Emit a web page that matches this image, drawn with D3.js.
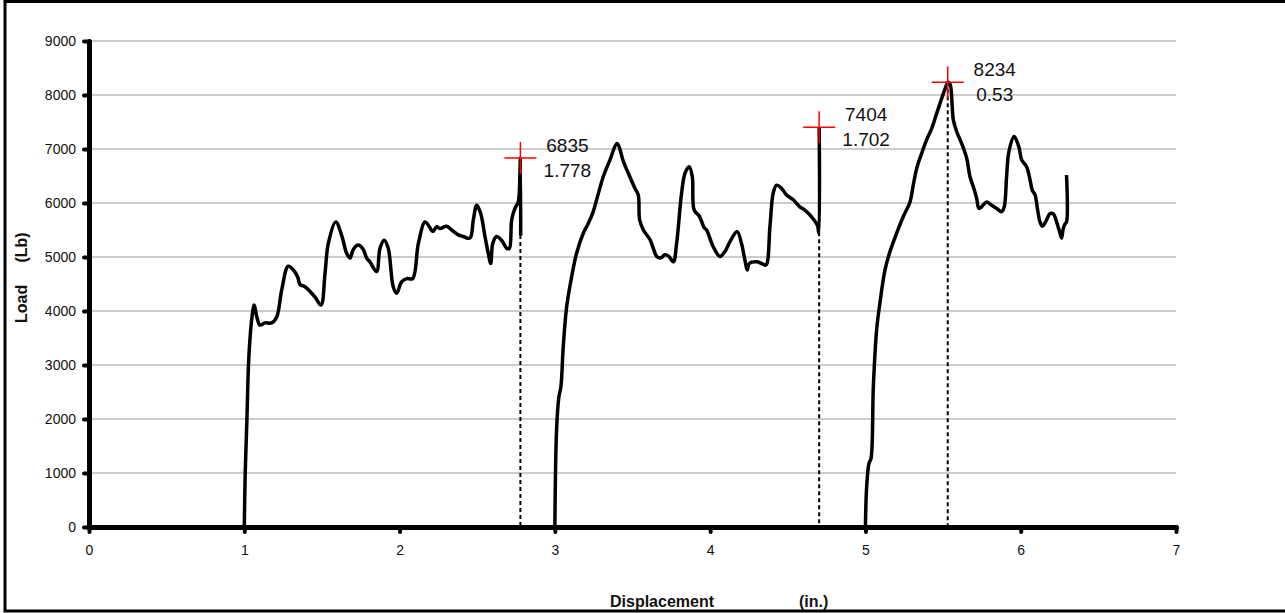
<!DOCTYPE html>
<html>
<head>
<meta charset="utf-8">
<script src="https://cdn.jsdelivr.net/npm/d3@7"></script>
<style>
  body { margin: 0; background: #fff; }
  text { font-family: Arial, "Liberation Sans", sans-serif; fill: #111; }
</style>
</head>
<body>
<div id="chart"></div>
<script>
var run1 = [[1.000,0],[1.006,1000],[1.017,2000],[1.027,3000],[1.037,3500],[1.050,3900],[1.064,4110],[1.080,3900],
  [1.101,3740],[1.133,3780],[1.176,3780],[1.209,3890],[1.241,4390],[1.283,4830],[1.316,4760],[1.344,4630],
  [1.359,4490],[1.391,4450],[1.455,4260],[1.494,4110],[1.520,4700],[1.541,5250],[1.589,5650],[1.627,5400],
  [1.659,5070],[1.681,4980],[1.702,5140],[1.734,5220],[1.766,5140],[1.788,4980],[1.809,4910],[1.852,4730],
  [1.874,5160],[1.901,5310],[1.927,5160],[1.959,4450],[1.981,4330],[2.013,4540],[2.046,4600],[2.084,4600],
  [2.121,5250],[2.164,5650],[2.192,5560],[2.213,5470],[2.239,5560],[2.260,5530],[2.303,5570],[2.336,5500],
  [2.378,5410],[2.410,5380],[2.453,5350],[2.475,5690],[2.497,5960],[2.522,5810],[2.550,5380],[2.571,5070],
  [2.587,4880],[2.600,5250],[2.625,5380],[2.657,5310],[2.690,5160],[2.707,5160],[2.722,5690],[2.743,5900],
  [2.764,6020],[2.775,6550],[2.778,6835],[2.780,5400]];

var run2 = [[3.000,0],[3.011,1800],[3.026,2410],[3.039,2600],[3.054,3340],[3.076,4080],[3.108,4630],[3.140,5070],
  [3.183,5440],[3.215,5620],[3.247,5840],[3.269,6060],[3.312,6490],[3.355,6800],[3.398,7100],[3.408,7080],
  [3.441,6770],[3.473,6550],[3.516,6270],[3.537,6150],[3.546,5690],[3.570,5500],[3.613,5320],[3.634,5160],
  [3.656,5010],[3.680,4980],[3.709,5040],[3.734,5010],[3.763,4910],[3.784,5250],[3.816,6180],[3.838,6550],
  [3.865,6670],[3.885,6490],[3.897,5870],[3.930,5760],[3.962,5540],[3.977,5500],[4.020,5190],[4.063,5010],
  [4.095,5100],[4.127,5280],[4.174,5470],[4.202,5250],[4.224,4940],[4.239,4760],[4.252,4880],[4.299,4910],
  [4.331,4880],[4.359,4850],[4.385,5560],[4.406,6180],[4.428,6330],[4.460,6270],[4.492,6150],[4.535,6060],
  [4.578,5930],[4.610,5870],[4.642,5780],[4.690,5590],[4.700,5440],[4.702,7404]];

var run3 = [[5.000,0],[5.008,750],[5.023,1180],[5.036,1270],[5.051,2600],[5.072,3650],[5.093,4140],[5.126,4760],
  [5.158,5100],[5.201,5440],[5.244,5750],[5.287,6020],[5.308,6330],[5.330,6640],[5.362,6920],[5.394,7170],
  [5.427,7380],[5.459,7660],[5.495,7970],[5.523,8190],[5.530,8234],[5.544,8210],[5.559,7780],[5.566,7540],
  [5.588,7320],[5.620,7100],[5.652,6830],[5.673,6490],[5.695,6300],[5.716,6090],[5.731,5900],[5.748,5930],
  [5.780,6020],[5.812,5960],[5.845,5900],[5.877,5840],[5.894,5930],[5.909,6490],[5.924,6950],[5.958,7230],
  [5.988,7040],[6.006,6800],[6.038,6670],[6.060,6430],[6.074,6240],[6.092,6150],[6.109,5870],[6.124,5650],
  [6.139,5570],[6.160,5650],[6.188,5800],[6.209,5800],[6.231,5650],[6.253,5440],[6.263,5350],[6.274,5530],
  [6.285,5610],[6.295,5650],[6.295,6518]];

// marked peaks
var peakX = [2.778, 4.702, 5.53];
var peakLoad = [6835, 7404, 8234];
var peakNote = ["1.778", "1.702", "0.53"];

var xTicks = [0, 1, 2, 3, 4, 5, 6, 7];
var yTicks = [0, 1000, 2000, 3000, 4000, 5000, 6000, 7000, 8000, 9000];

// set up SVG
var svgWidth = 1285;
var svgHeight = 613;

var margin = {
    top: 41,
    right: 109,
    left: 89,
    bottom: 86
};

var width = svgWidth - margin.right - margin.left;
var height = svgHeight - margin.top - margin.bottom;

var svg = d3.select("#chart")
    .append("svg")
    .attr("width", svgWidth)
    .attr("height", svgHeight);

// outer frame
svg.append("rect")
    .attr("x", 5)
    .attr("y", 1.5)
    .attr("width", svgWidth + 10)
    .attr("height", 609.5)
    .attr("fill", "none")
    .attr("stroke", "#000")
    .attr("stroke-width", 3);

var chartGroup = svg.append("g")
    .attr("transform", `translate(${margin.left}, ${margin.top})`);

// scales
var xLinearScale = d3.scaleLinear()
    .domain([0, 7])
    .range([0, width]);

var yLinearScale = d3.scaleLinear()
    .domain([0, 9000])
    .range([height, 0]);

// gridlines
chartGroup.selectAll(".grid")
    .data(yTicks.filter(d => d > 0))
    .enter()
    .append("line")
    .attr("x1", 0)
    .attr("x2", width)
    .attr("y1", d => yLinearScale(d))
    .attr("y2", d => yLinearScale(d))
    .attr("stroke", "#999")
    .attr("stroke-width", 1);

// axes
var bottomAxis = d3.axisBottom(xLinearScale)
    .tickValues(xTicks)
    .tickFormat(d3.format("d"))
    .tickSize(5)
    .tickSizeOuter(0)
    .tickPadding(13);

var leftAxis = d3.axisLeft(yLinearScale)
    .tickValues(yTicks)
    .tickFormat(d3.format("d"))
    .tickSize(5)
    .tickSizeOuter(0)
    .tickPadding(8);

var xAxisG = chartGroup.append("g")
    .attr("transform", `translate(0, ${height})`)
    .call(bottomAxis);

var yAxisG = chartGroup.append("g")
    .call(leftAxis);

[xAxisG, yAxisG].forEach(function (g) {
    g.select(".domain").attr("stroke", "#000").attr("stroke-width", 5).attr("stroke-linecap", "round");
    g.selectAll(".tick line").attr("stroke", "#000").attr("stroke-width", 4).attr("stroke-linecap", "round");
    g.selectAll(".tick text").attr("font-size", 14).attr("fill", "#111")
        .style("font-family", "Arial, 'Liberation Sans', sans-serif");
});

// dashed drops from the peaks
chartGroup.selectAll(".drop")
    .data(peakX)
    .enter()
    .append("line")
    .attr("x1", d => xLinearScale(d))
    .attr("x2", d => xLinearScale(d))
    .attr("y1", (d, i) => yLinearScale(peakLoad[i]))
    .attr("y2", yLinearScale(0))
    .attr("stroke", "#000")
    .attr("stroke-width", 2)
    .attr("stroke-dasharray", "4,3");

// load curves
var line = d3.line()
    .x(d => xLinearScale(d[0]))
    .y(d => yLinearScale(d[1]))
    .curve(d3.curveCatmullRom.alpha(0.5));

[run1, run2, run3].forEach(function (run) {
    chartGroup.append("path")
        .datum(run)
        .attr("d", line)
        .attr("fill", "none")
        .attr("stroke", "#000")
        .attr("stroke-width", 3.5)
        .attr("stroke-linejoin", "round");
});

// red crosses on the peaks
var crossGroup = chartGroup.selectAll(".cross")
    .data(peakX)
    .enter()
    .append("g")
    .attr("transform", (d, i) => `translate(${xLinearScale(d)}, ${yLinearScale(peakLoad[i])})`);

crossGroup.append("line")
    .attr("x1", -16).attr("x2", 16).attr("y1", 0).attr("y2", 0)
    .attr("stroke", "red").attr("stroke-width", 1.5);

crossGroup.append("line")
    .attr("x1", 0).attr("x2", 0).attr("y1", -16).attr("y2", 16)
    .attr("stroke", "red").attr("stroke-width", 1.5);

crossGroup.append("text")
    .attr("x", 47)
    .attr("y", -6)
    .attr("text-anchor", "middle")
    .attr("font-size", 19)
    .text((d, i) => peakLoad[i]);

crossGroup.append("text")
    .attr("x", 47)
    .attr("y", 19)
    .attr("text-anchor", "middle")
    .attr("font-size", 19)
    .text((d, i) => peakNote[i]);

// axis titles
svg.append("text")
    .attr("transform", "translate(26.5, 323) rotate(-90)")
    .attr("font-size", 16)
    .attr("font-weight", "bold")
    .style("white-space", "pre")
    .text("Load     (Lb)");

var xTitle = svg.append("text")
    .attr("x", 610)
    .attr("y", 607)
    .attr("font-size", 16)
    .attr("font-weight", "bold");

xTitle.append("tspan").text("Displacement");
xTitle.append("tspan").attr("x", 799).text("(in.)");
</script>
</body>
</html>
